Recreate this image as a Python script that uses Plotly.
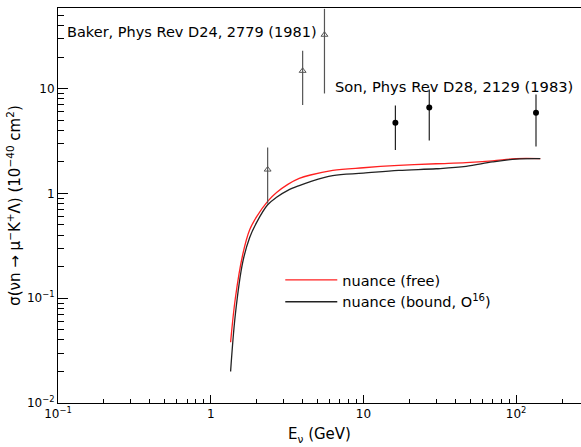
import plotly.graph_objects as go

# Curves (nuance predictions)
e_free = [1.35, 1.45, 1.62, 1.8, 2.0, 2.36, 2.7, 3.2, 3.8, 4.5, 6.3, 10, 17, 30, 47, 70, 100, 144]
s_free = [0.038, 0.10, 0.26, 0.45, 0.60, 0.84, 1.02, 1.22, 1.39, 1.50, 1.66, 1.76, 1.85, 1.92, 1.97, 2.05, 2.15, 2.15]
e_bound = [1.35, 1.45, 1.62, 1.8, 2.0, 2.36, 2.7, 3.2, 3.8, 4.5, 6.3, 10, 17, 30, 47, 70, 100, 144]
s_bound = [0.020, 0.07, 0.22, 0.38, 0.53, 0.78, 0.92, 1.07, 1.19, 1.30, 1.48, 1.56, 1.66, 1.72, 1.81, 2.00, 2.13, 2.15]

# Baker data (open triangles)
baker_e = [2.36, 4.0, 5.56]
baker_s = [1.69, 14.8, 32.7]
baker_hi = [2.74, 23.0, 57.8]
baker_lo = [0.80, 7.0, 9.0]

# Son data (filled circles)
son_e = [16.2, 27.0, 135.0]
son_s = [4.74, 6.6, 5.9]
son_hi = [6.9, 9.8, 8.8]
son_lo = [2.6, 3.2, 2.8]

# Tick labels
x_major = [0.1, 1, 10, 100]
x_major_text = ["10<sup>\u22121</sup>", "1", "10", "10<sup>2</sup>"]
y_major = [0.01, 0.1, 1, 10]
y_major_text = ["10<sup>\u22122</sup>", "10<sup>\u22121</sup>", "1", "10"]
x_minor = [m * d for d in [0.1, 1, 10, 100] for m in range(2, 10)]
y_minor = [m * d for d in [0.01, 0.1, 1, 10] for m in range(2, 10)]

X_RANGE = [-1, 2.425]
Y_RANGE = [-2, 1.77]
font_family = "DejaVu Sans"

fig = go.Figure()
fig.add_trace(go.Scatter(x=e_free, y=s_free, mode="lines", line=dict(color="#ff2020", width=1.3),
                         line_shape="spline", name="nuance (free)"))
fig.add_trace(go.Scatter(x=e_bound, y=s_bound, mode="lines", line=dict(color="#222222", width=1.3),
                         line_shape="spline", name="nuance (bound, O<sup>16</sup>)"))
fig.add_trace(go.Scatter(
    x=baker_e, y=baker_s, mode="markers",
    marker=dict(symbol="triangle-up-open", size=6, color="#555555", line=dict(width=1)),
    error_y=dict(type="data", symmetric=False,
                 array=[h - s for h, s in zip(baker_hi, baker_s)],
                 arrayminus=[s - l for s, l in zip(baker_s, baker_lo)],
                 width=0, thickness=1.2, color="#555555"),
    showlegend=False))
fig.add_trace(go.Scatter(
    x=son_e, y=son_s, mode="markers",
    marker=dict(symbol="circle", size=6, color="black"),
    error_y=dict(type="data", symmetric=False,
                 array=[h - s for h, s in zip(son_hi, son_s)],
                 arrayminus=[s - l for s, l in zip(son_s, son_lo)],
                 width=0, thickness=1.2, color="#222222"),
    showlegend=False))
# invisible trace to carry the minor-tick overlay axes
fig.add_trace(go.Scatter(x=[1], y=[1], xaxis="x2", yaxis="y2", mode="markers",
                         marker=dict(opacity=0), showlegend=False, hoverinfo="skip"))

fig.add_annotation(x=0.013, y=0.94, xref="paper", yref="paper", xanchor="left", yanchor="middle",
                   text="Baker, Phys Rev D24, 2779 (1981)", showarrow=False,
                   font=dict(family=font_family, size=14.5, color="black"))
fig.add_annotation(x=0.525, y=0.80, xref="paper", yref="paper", xanchor="left", yanchor="middle",
                   text="Son, Phys Rev D28, 2129 (1983)", showarrow=False,
                   font=dict(family=font_family, size=14.7, color="black"))

fig.update_layout(
    xaxis=dict(type="log", range=X_RANGE,
               tickvals=x_major, ticktext=x_major_text,
               ticks="inside", ticklen=8, tickcolor="black",
               showline=True, linecolor="black", linewidth=1, mirror=True,
               showgrid=False, zeroline=False,
               tickfont=dict(family=font_family, size=12, color="black"),
               title=dict(text="E<sub>\u03bd</sub> (GeV)", font=dict(family=font_family, size=15, color="black"),
                          standoff=8)),
    yaxis=dict(type="log", range=Y_RANGE,
               tickvals=y_major, ticktext=y_major_text,
               ticks="inside", ticklen=10, tickcolor="black",
               showline=True, linecolor="black", linewidth=1,
               showgrid=False, zeroline=False,
               tickfont=dict(family=font_family, size=12, color="black"),
               title=dict(text="\u03c3(\u03bdn \u2192 \u03bc<sup>\u2212</sup>K<sup>+</sup>\u039b) (10<sup>\u221240</sup> cm<sup>2</sup>)",
                          font=dict(family=font_family, size=15, color="black"), standoff=2)),
    xaxis2=dict(type="log", range=X_RANGE, overlaying="x", anchor="y2", side="bottom",
                tickvals=x_minor, ticks="inside", ticklen=4, tickcolor="black",
                showticklabels=False, showgrid=False, zeroline=False, showline=False),
    yaxis2=dict(type="log", range=Y_RANGE, overlaying="y", anchor="x2", side="left",
                tickvals=y_minor, ticks="inside", ticklen=6, tickcolor="black",
                showticklabels=False, showgrid=False, zeroline=False, showline=False),
    width=581, height=447,
    margin=dict(l=58, r=0, t=8, b=44),
    paper_bgcolor="white", plot_bgcolor="white",
    legend=dict(x=0.425, y=0.352, xanchor="left", yanchor="top",
                bgcolor="rgba(0,0,0,0)", font=dict(family=font_family, size=14.5, color="black"),
                tracegroupgap=0, itemwidth=52),
)
fig.write_html("out.html")
